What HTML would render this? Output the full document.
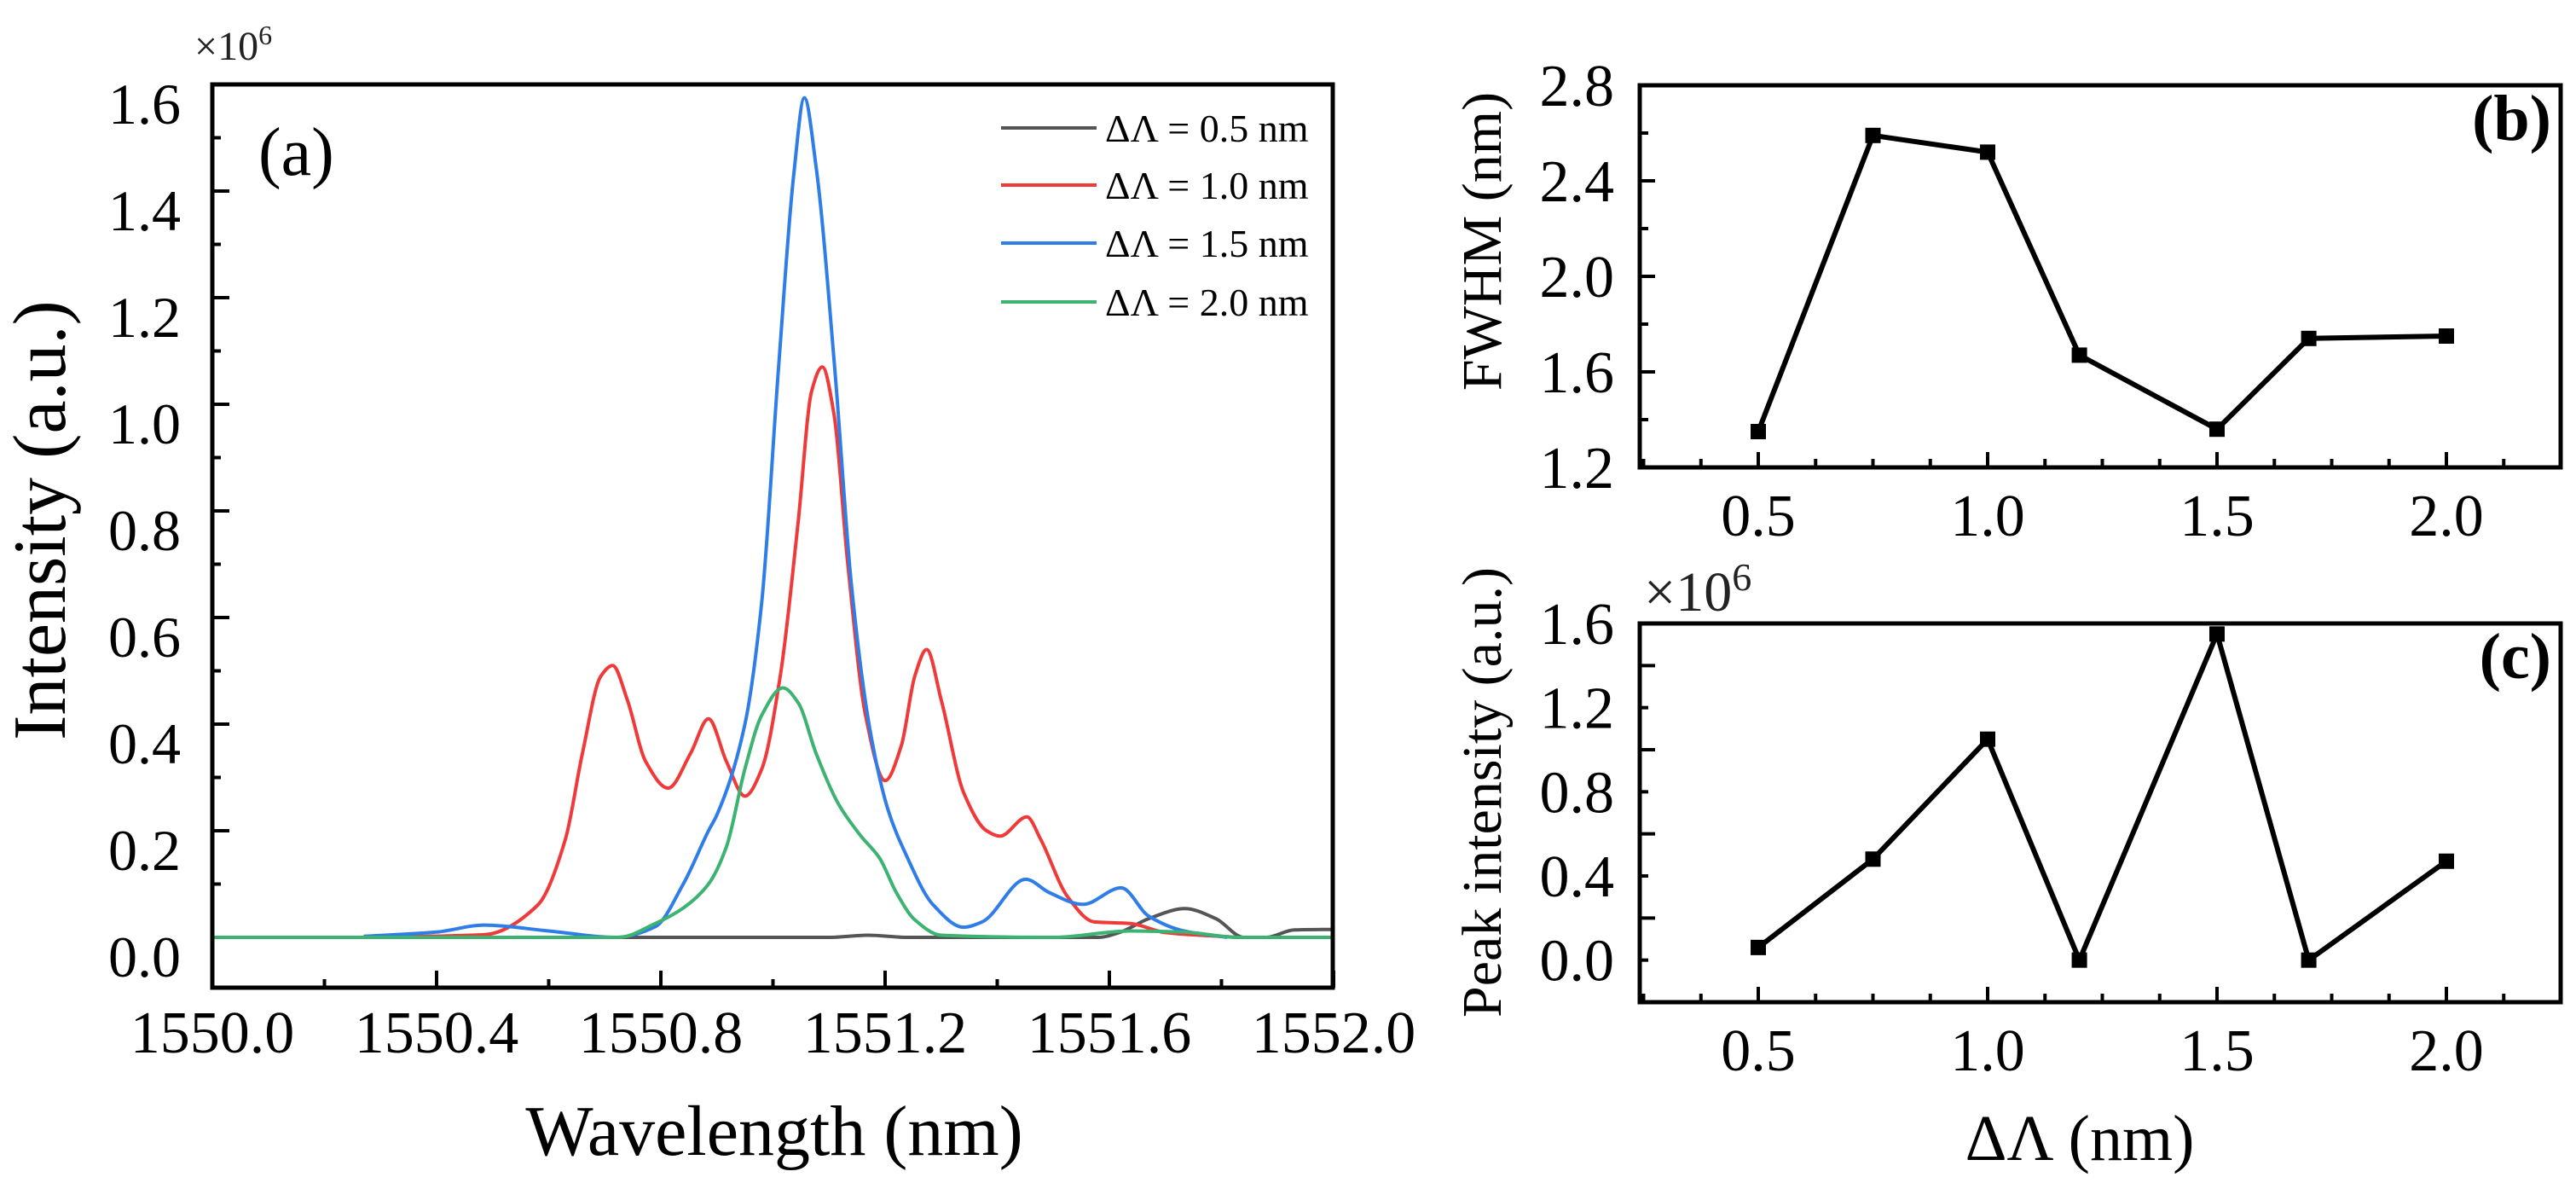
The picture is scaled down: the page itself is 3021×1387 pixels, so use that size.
<!DOCTYPE html>
<html><head><meta charset="utf-8">
<style>
html,body{margin:0;padding:0;background:#fff;}
svg{display:block;font-family:"Liberation Serif","DejaVu Serif",serif;}
</style></head>
<body>
<svg id="fig" width="3021" height="1387" viewBox="0 0 3021 1387" xmlns="http://www.w3.org/2000/svg"></svg>
<script>
// ---------- Panel (a) data: wavelength (nm) / intensity (x1e6) ----------
const grayX = [1550.0,1551.1,1551.17,1551.24,1551.58,1551.62,1551.67,1551.735,1551.79,1551.84,1551.88,1551.93,1552.0];
const grayY = [0,0,0.004,0,0,0.01,0.035,0.054,0.035,0,0,0.014,0.015];
const redX = [1550.27,1550.485,1550.58,1550.63,1550.66,1550.693,1550.714,1550.74,1550.773,1550.813,1550.853,1550.885,1550.917,1550.95,1550.98,1551.013,1551.045,1551.069,1551.088,1551.109,1551.133,1551.165,1551.2,1551.229,1551.253,1551.274,1551.3,1551.34,1551.381,1551.405,1551.453,1551.477,1551.525,1551.573,1551.637,1551.7,1551.83];
const redY = [0,0.005,0.06,0.185,0.345,0.49,0.51,0.446,0.33,0.28,0.345,0.41,0.33,0.265,0.316,0.49,0.78,1.025,1.07,0.98,0.706,0.417,0.294,0.36,0.49,0.54,0.446,0.272,0.2,0.19,0.226,0.185,0.077,0.029,0.026,0.009,0];
const blueX = [1550.27,1550.4,1550.485,1550.6,1550.72,1550.79,1550.84,1550.885,1550.9,1550.95,1550.98,1551.01,1551.037,1551.056,1551.077,1551.11,1551.14,1551.173,1551.205,1551.237,1551.285,1551.34,1551.373,1551.451,1551.493,1551.553,1551.621,1551.67,1551.733,1551.81];
const blueY = [0.002,0.01,0.023,0.012,0,0.02,0.1,0.2,0.23,0.4,0.63,1.07,1.43,1.575,1.445,1.07,0.66,0.39,0.24,0.156,0.062,0.019,0.029,0.109,0.084,0.062,0.093,0.04,0.012,0];
const greenX = [1550.0,1550.725,1550.79,1550.84,1550.885,1550.917,1550.95,1550.98,1551.018,1551.045,1551.077,1551.117,1551.157,1551.19,1551.22,1551.253,1551.3,1551.5,1551.637,1551.733,1551.83,1552.0];
const greenY = [0,0,0.026,0.055,0.1,0.17,0.316,0.417,0.468,0.44,0.345,0.25,0.19,0.149,0.084,0.033,0.004,0,0.012,0.01,0,0];
const legendLabels = ["ΔΛ = 0.5 nm","ΔΛ = 1.0 nm","ΔΛ = 1.5 nm","ΔΛ = 2.0 nm"];
const aXTicks = [1550.0,1550.4,1550.8,1551.2,1551.6,1552.0];
const aYTicks = [0.0,0.2,0.4,0.6,0.8,1.0,1.2,1.4,1.6];
// ---------- Panels (b),(c) data ----------
const dLambda = [0.5,0.75,1.0,1.2,1.5,1.7,2.0];
const fwhm = [1.35,2.59,2.52,1.67,1.36,1.74,1.75];
const peakInt = [0.06,0.48,1.05,0.0,1.55,0.0,0.47];
const bcXTicks = [0.5,1.0,1.5,2.0];
const bYTicks = [1.2,1.6,2.0,2.4,2.8];
const cYTicks = [0.0,0.4,0.8,1.2,1.6];

const NS="http://www.w3.org/2000/svg";
const svg=document.getElementById('fig');
function el(tag,attrs,parent){const e=document.createElementNS(NS,tag);for(const k in attrs)e.setAttribute(k,attrs[k]);(parent||svg).appendChild(e);return e;}
function txt(s,attrs,parent){const e=el('text',attrs,parent);e.textContent=s;return e;}

// monotone cubic path through pixel points
function smoothPath(P){
 const n=P.length;if(n<2)return '';
 const dx=[],m=[],t=[];
 for(let i=0;i<n-1;i++){dx[i]=P[i+1][0]-P[i][0];m[i]=(P[i+1][1]-P[i][1])/dx[i];}
 t[0]=m[0];t[n-1]=m[n-2];
 for(let i=1;i<n-1;i++){if(m[i-1]*m[i]<=0)t[i]=0;else{const w1=2*dx[i]+dx[i-1],w2=dx[i]+2*dx[i-1];t[i]=(w1+w2)/(w1/m[i-1]+w2/m[i]);}}
 let d='M'+P[0][0].toFixed(1)+','+P[0][1].toFixed(1);
 for(let i=0;i<n-1;i++){const h=dx[i]/3;
  d+=' C'+(P[i][0]+h).toFixed(1)+','+(P[i][1]+t[i]*h).toFixed(1)+' '+(P[i+1][0]-h).toFixed(1)+','+(P[i+1][1]-t[i+1]*h).toFixed(1)+' '+P[i+1][0].toFixed(1)+','+P[i+1][1].toFixed(1);}
 return d;
}

// ---------- Panel (a) ----------
const A={l:249,r:1563,t:99,b:1158};
const ax=v=>249+(v-1550.0)*657.5;
const ay=v=>1099-v*625;
const ga=el('g',{});


for(let i=0;i<=10;i++){const v=1550+i*0.2;const x=ax(v);const major=i%2===0;
 const t=el('line',{x1:x,x2:x,y1:A.b,y2:A.b-(major?20:10),stroke:'#000','stroke-width':4},ga);
 }
aXTicks.forEach(v=>{const t=txt(v.toFixed(1),{x:ax(v),y:1234,'font-size':70,'text-anchor':'middle'},ga);
 });
for(let i=-1;i<=16;i++){const v=i*0.1;const y=ay(v);if(y>A.b||y<A.t)continue;const major=i%2===0;
 const t=el('line',{x1:A.l,x2:A.l+(major?20:10),y1:y,y2:y,stroke:'#000','stroke-width':4},ga);
 }
aYTicks.forEach(v=>{const t=txt(v.toFixed(1),{x:212,y:ay(v)+46,'font-size':68,'text-anchor':'end'},ga);
 });
function series(X,Y,color,name,g){const P=X.map((x,i)=>[ax(x),ay(Y[i])]);
 const p=el('path',{d:smoothPath(P),fill:'none',stroke:color,'stroke-width':4,'stroke-linejoin':'round'},g);
 }
series(grayX,grayY,'#555','series-0-5nm',ga);
series(redX,redY,'#f03a3a','series-1-0nm',ga);
series(blueX,blueY,'#2f7de8','series-1-5nm',ga);
series(greenX,greenY,'#3cb371','series-2-0nm',ga);
const fa=el('rect',{x:A.l,y:A.t,width:A.r-A.l,height:A.b-A.t,fill:'none',stroke:'#000','stroke-width':5},ga);

const colors=['#555','#f03a3a','#2f7de8','#3cb371'];const rows=[150,217,285,354];
legendLabels.forEach((s,i)=>{const g=el('g',{},ga);
 
 el('line',{x1:1174,x2:1286,y1:rows[i],y2:rows[i],stroke:colors[i],'stroke-width':4},g);
 txt(s,{x:1296,y:rows[i]+16,'font-size':46},g);});
const la=txt('(a)',{x:303,y:205,'font-size':80},ga);

const ma=el('text',{x:228,y:70,'font-size':48,fill:'#222'},ga);

ma.innerHTML='×10<tspan dy="-18" font-size="32">6</tspan>';
const ya=txt('Intensity (a.u.)',{x:0,y:0,'font-size':88,'text-anchor':'middle',transform:'translate(76,610) rotate(-90)'},ga);

const xa=txt('Wavelength (nm)',{x:908,y:1354,'font-size':84,'text-anchor':'middle'},ga);


// ---------- Panels (b),(c) ----------
const bx=v=>2062+(v-0.5)*538;
function smallPanel(name,frame,ymin,ymax,yTicks,vals,label){
 const g=el('g',{});
 
 const y=v=>frame.b-(v-ymin)/(ymax-ymin)*(frame.b-frame.t);
 for(let i=-2;i<=16;i++){const v=0.5+i*0.125;const x=bx(v);if(x<=frame.l||x>=frame.r)continue;const major=i%4===0;
  const t=el('line',{x1:x,x2:x,y1:frame.b,y2:frame.b-(major?18:10),stroke:'#000','stroke-width':4},g);
  }
 bcXTicks.forEach(v=>{const t=txt(v.toFixed(1),{x:bx(v),y:frame.b+80,'font-size':70,'text-anchor':'middle'},g);
  });
 const step=(yTicks[1]-yTicks[0])/2;
 for(let v=ymin;v<=ymax+1e-9;v+=step){const yy=y(v);const major=Math.round((v-ymin)/step)%2===0;
  const t=el('line',{x1:frame.l,x2:frame.l+(major?18:10),y1:yy,y2:yy,stroke:'#000','stroke-width':4},g);
  }
 yTicks.forEach(v=>{const t=txt(v.toFixed(1),{x:1893,y:y(v)+24,'font-size':70,'text-anchor':'end'},g);
  });
 const d=dLambda.map((x,i)=>(i?'L':'M')+bx(x).toFixed(1)+','+y(vals[i]).toFixed(1)).join(' ');
 const p=el('path',{d:d,fill:'none',stroke:'#000','stroke-width':6,'stroke-linejoin':'round'},g);
 
 dLambda.forEach((x,i)=>{const m=el('rect',{x:bx(x)-9,y:y(vals[i])-9,width:18,height:18,fill:'#000'},g);
  });
 const f=el('rect',{x:frame.l,y:frame.t,width:frame.r-frame.l,height:frame.b-frame.t,fill:'none',stroke:'#000','stroke-width':5},g);
 
 const l=txt(label,{x:2992,y:frame.t+64,'font-size':76,'font-weight':'bold','text-anchor':'end'},g);
 
 return g;
}
smallPanel('panel-b',{l:1923,r:3003,t:100,b:548},1.2,2.8,bYTicks,fwhm,'(b)');
smallPanel('panel-c',{l:1923,r:3003,t:731,b:1175},-0.2,1.6,cYTicks,peakInt,'(c)');
const mc=el('text',{x:1928,y:716,'font-size':66,fill:'#222'});

mc.innerHTML='×10<tspan dy="-24" font-size="46">6</tspan>';
const yb=txt('FWHM (nm)',{x:0,y:0,'font-size':66,'text-anchor':'middle',transform:'translate(1760,283) rotate(-90)'});

const yc=txt('Peak intensity (a.u.)',{x:0,y:0,'font-size':66,'text-anchor':'middle',transform:'translate(1760,929) rotate(-90)'});

const xc=txt('ΔΛ (nm)',{x:2439,y:1360,'font-size':76,'text-anchor':'middle'});

</script>
</body></html>
